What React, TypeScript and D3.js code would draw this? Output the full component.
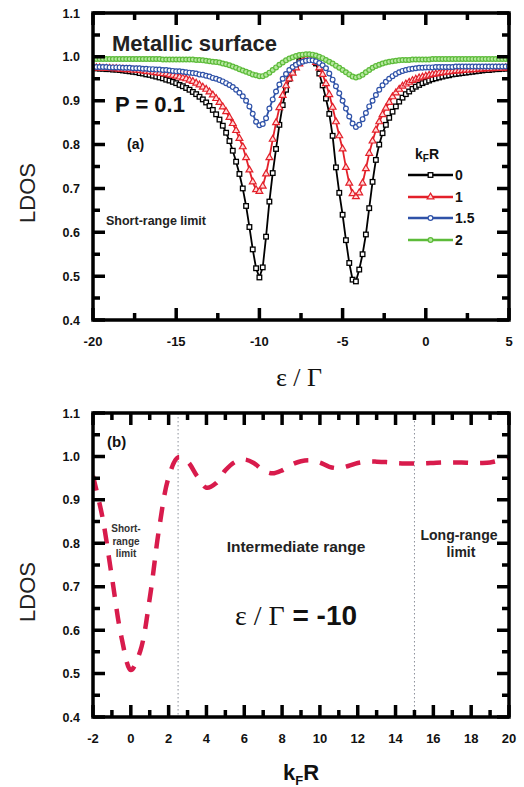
import React from "react";
import * as d3 from "d3";

// ---- Panel (a): LDOS vs ε/Γ for several k_F R (sampled every 0.2 in ε/Γ) ----
const EPS = d3.range(0, 126).map((i) => -20 + i * 0.2);

const LDOS_K0 = [
  0.974, 0.974, 0.973, 0.973, 0.972, 0.972, 0.971, 0.971, 0.97, 0.969,
  0.968, 0.967, 0.966, 0.965, 0.963, 0.962, 0.96, 0.959, 0.957, 0.955,
  0.953, 0.951, 0.948, 0.946, 0.943, 0.94, 0.936, 0.933, 0.929, 0.925,
  0.92, 0.915, 0.909, 0.903, 0.896, 0.888, 0.879, 0.869, 0.857, 0.843,
  0.827, 0.808, 0.786, 0.761, 0.733, 0.7, 0.66, 0.612, 0.561, 0.518,
  0.497, 0.52, 0.59, 0.67, 0.735, 0.79, 0.845, 0.89, 0.925, 0.95,
  0.968, 0.98, 0.99, 0.997, 1.001, 1.002, 0.998, 0.985, 0.962, 0.935,
  0.905, 0.87, 0.82, 0.748, 0.69, 0.64, 0.582, 0.53, 0.492, 0.488,
  0.515, 0.55, 0.595, 0.655, 0.715, 0.765, 0.8, 0.826, 0.845, 0.861,
  0.875, 0.887, 0.898, 0.907, 0.915, 0.921, 0.927, 0.932, 0.936, 0.94,
  0.943, 0.946, 0.949, 0.951, 0.953, 0.955, 0.957, 0.958, 0.96, 0.961,
  0.962, 0.963, 0.964, 0.965, 0.966, 0.967, 0.968, 0.969, 0.97, 0.97,
  0.971, 0.972, 0.972, 0.973, 0.973, 0.974,
];

const LDOS_K1 = [
  0.975, 0.975, 0.975, 0.974, 0.974, 0.974, 0.973, 0.973, 0.972, 0.972,
  0.971, 0.971, 0.97, 0.97, 0.969, 0.968, 0.967, 0.966, 0.965, 0.964,
  0.963, 0.962, 0.961, 0.959, 0.958, 0.956, 0.954, 0.952, 0.95, 0.947,
  0.944, 0.94, 0.936, 0.931, 0.926, 0.92, 0.913, 0.905, 0.896, 0.886,
  0.875, 0.862, 0.848, 0.832, 0.814, 0.795, 0.77, 0.742, 0.715, 0.697,
  0.693, 0.705, 0.733, 0.77, 0.812, 0.85, 0.884, 0.912, 0.934, 0.95,
  0.963, 0.975, 0.984, 0.991, 0.996, 0.997, 0.994, 0.987, 0.975, 0.96,
  0.939, 0.914, 0.885, 0.852, 0.82, 0.79, 0.748, 0.712, 0.688, 0.681,
  0.69, 0.712, 0.745, 0.78, 0.808, 0.833, 0.852, 0.868, 0.883, 0.896,
  0.909, 0.918, 0.926, 0.933, 0.938, 0.942, 0.946, 0.949, 0.952, 0.954,
  0.956, 0.958, 0.96, 0.961, 0.963, 0.964, 0.965, 0.966, 0.967, 0.968,
  0.968, 0.969, 0.97, 0.97, 0.971, 0.971, 0.972, 0.972, 0.973, 0.973,
  0.973, 0.974, 0.974, 0.974, 0.975, 0.975,
];

const LDOS_K15 = [
  0.977, 0.977, 0.977, 0.977, 0.977, 0.976, 0.976, 0.976, 0.976, 0.975,
  0.975, 0.975, 0.974, 0.974, 0.974, 0.973, 0.973, 0.972, 0.972, 0.971,
  0.971, 0.97, 0.97, 0.969, 0.968, 0.967, 0.967, 0.966, 0.965, 0.964,
  0.963, 0.962, 0.96, 0.959, 0.957, 0.955, 0.952, 0.95, 0.947, 0.944,
  0.94, 0.936, 0.931, 0.925, 0.918, 0.91, 0.9, 0.887, 0.87, 0.852,
  0.844, 0.847, 0.86, 0.882, 0.903, 0.921, 0.937, 0.95, 0.961, 0.97,
  0.977, 0.982, 0.986, 0.989, 0.991, 0.992, 0.992, 0.99, 0.986, 0.981,
  0.974, 0.962, 0.948, 0.933, 0.917, 0.9, 0.882, 0.864, 0.848, 0.84,
  0.845, 0.858, 0.872, 0.887, 0.9, 0.913, 0.925, 0.935, 0.943, 0.95,
  0.956, 0.961, 0.965, 0.968, 0.97, 0.972, 0.973, 0.974, 0.975, 0.975,
  0.976, 0.976, 0.976, 0.977, 0.977, 0.977, 0.977, 0.977, 0.977, 0.978,
  0.978, 0.978, 0.978, 0.978, 0.978, 0.978, 0.978, 0.978, 0.978, 0.978,
  0.978, 0.978, 0.978, 0.978, 0.978, 0.978,
];

const LDOS_K2 = [
  0.995, 0.995, 0.995, 0.995, 0.995, 0.995, 0.995, 0.995, 0.995, 0.995,
  0.995, 0.995, 0.995, 0.995, 0.995, 0.995, 0.995, 0.995, 0.995, 0.995,
  0.995, 0.994, 0.994, 0.994, 0.994, 0.994, 0.994, 0.994, 0.994, 0.994,
  0.994, 0.993, 0.993, 0.992, 0.991, 0.99, 0.989, 0.988, 0.987, 0.985,
  0.983, 0.981, 0.978, 0.975, 0.972, 0.969, 0.966, 0.963, 0.96, 0.958,
  0.956, 0.956, 0.959, 0.964, 0.97, 0.976, 0.982, 0.987, 0.992, 0.996,
  0.999, 1.002, 1.004, 1.005, 1.006, 1.006, 1.005, 1.003, 1.0, 0.997,
  0.993, 0.989, 0.985, 0.98, 0.975, 0.97, 0.965, 0.96, 0.955, 0.953,
  0.955, 0.959, 0.965, 0.97, 0.975, 0.979, 0.982, 0.985, 0.987, 0.989,
  0.99, 0.991, 0.992, 0.993, 0.993, 0.993, 0.994, 0.994, 0.994, 0.994,
  0.994, 0.994, 0.995, 0.995, 0.995, 0.995, 0.995, 0.995, 0.995, 0.995,
  0.995, 0.995, 0.995, 0.995, 0.995, 0.995, 0.995, 0.995, 0.995, 0.995,
  0.995, 0.995, 0.995, 0.995, 0.995, 0.995,
];

const SERIES_LABELS = ["0", "1", "1.5", "2"];

// ---- Panel (b): LDOS vs k_F R at ε/Γ = -10 (sampled every 0.5) ----
const KFR = d3.range(0, 45).map((i) => -2 + i * 0.5);
const LDOS_B = [
  0.955, 0.86, 0.722, 0.585, 0.508, 0.552, 0.673, 0.835, 0.952, 0.998,
  0.988, 0.955, 0.928, 0.938, 0.968, 0.987, 0.993, 0.985, 0.968, 0.961,
  0.968, 0.981, 0.989, 0.991, 0.986, 0.976, 0.973, 0.978, 0.985, 0.988,
  0.988, 0.987, 0.985, 0.984, 0.984, 0.984, 0.985, 0.986, 0.986, 0.986,
  0.985, 0.985, 0.986, 0.991, 0.998,
];
const REGION_BOUNDS = [2.5, 15];

// ---- Ticks ----
const Y_MAJOR = [0.4, 0.5, 0.6, 0.7, 0.8, 0.9, 1.0, 1.1];
const Y_MINOR = [0.45, 0.55, 0.65, 0.75, 0.85, 0.95, 1.05];
const XA_MAJOR = [-20, -15, -10, -5, 0, 5];
const XA_MINOR = [-17.5, -12.5, -7.5, -2.5, 2.5];
const XB_MAJOR = [-2, 0, 2, 4, 6, 8, 10, 12, 14, 16, 18, 20];
const XB_MINOR = [-1, 1, 3, 5, 7, 9, 11, 13, 15, 17, 19];

const SANS = "'Liberation Sans', Arial, Helvetica, sans-serif";
const SERIF = "'Liberation Serif', 'Times New Roman', serif";

const COLORS = ["#000000", "#e3202a", "#2f52a8", "#5dbb3a"];
const FILLS = ["#ffffff", "#ffd9d9", "#ffffff", "#b6e8a0"];

type Scale = d3.ScaleLinear<number, number>;

const xA = d3.scaleLinear().domain([-20, 5]).range([93, 509]);
const yA = d3.scaleLinear().domain([0.4, 1.1]).range([320, 13]);
const xB = d3.scaleLinear().domain([-2, 20]).range([93, 509]);
const yB = d3.scaleLinear().domain([0.4, 1.1]).range([717, 413]);

// Path data for inward tick marks on all four sides of a panel.
function tickPath(xs: Scale, ys: Scale, xMajor: number[], xMinor: number[]): string {
  const [left, right] = xs.range();
  const [bottom, top] = ys.range();
  const MAJ = 12;
  const MIN = 7;
  let d = "";
  const v = (px: number, len: number) => {
    d += "M" + px + "," + bottom + "L" + px + "," + (bottom - len);
    d += "M" + px + "," + top + "L" + px + "," + (top + len);
  };
  const h = (py: number, len: number) => {
    d += "M" + left + "," + py + "L" + (left + len) + "," + py;
    d += "M" + right + "," + py + "L" + (right - len) + "," + py;
  };
  xMajor.forEach((t) => v(xs(t), MAJ));
  xMinor.forEach((t) => v(xs(t), MIN));
  Y_MAJOR.forEach((t) => h(ys(t), MAJ));
  Y_MINOR.forEach((t) => h(ys(t), MIN));
  return d;
}

function Labels({ xs, ys, xMajor }: { xs: Scale; ys: Scale; xMajor: number[] }) {
  const [left] = xs.range();
  const [bottom] = ys.range();
  return (
    <g fontFamily={SANS} fontWeight="bold" fill="#111">
      {xMajor.map((v) => (
        <text key={"xl" + v} x={xs(v)} y={bottom + 26} textAnchor="middle" fontSize={13}>
          {String(v)}
        </text>
      ))}
      {Y_MAJOR.map((v) => (
        <text key={"yl" + v} x={left - 13} y={ys(v) + 4.5} textAnchor="end" fontSize={12.5}>
          {d3.format(".1f")(v)}
        </text>
      ))}
    </g>
  );
}

function Marker({ kind, cx, cy }: { kind: number; cx: number; cy: number }) {
  const c = COLORS[kind];
  const f = FILLS[kind];
  if (kind === 0) {
    return <rect x={cx - 2.3} y={cy - 2.3} width={4.6} height={4.6} fill={f} stroke={c} strokeWidth={1.3} />;
  }
  if (kind === 1) {
    const p = d3.symbol(d3.symbolTriangle, 20)() || "";
    return <path d={p} transform={`translate(${cx},${cy})`} fill={f} stroke={c} strokeWidth={1.2} />;
  }
  return <circle cx={cx} cy={cy} r={2.4} fill={f} stroke={c} strokeWidth={1.2} />;
}

export default function App() {
  const series = [LDOS_K0, LDOS_K1, LDOS_K15, LDOS_K2];
  const lineA = d3
    .line<[number, number]>()
    .x((d) => xA(d[0]))
    .y((d) => yA(d[1]));
  const lineB = d3
    .line<[number, number]>()
    .x((d) => xB(d[0]))
    .y((d) => yB(d[1]))
    .curve(d3.curveCatmullRom.alpha(0.5));

  const ptsB: [number, number][] = KFR.map((k, i) => [k, LDOS_B[i]]);

  const legendX0 = 408;
  const legendX1 = 453;
  const legendY = [175, 197, 218, 240];

  const ticksA = tickPath(xA, yA, XA_MAJOR, XA_MINOR);
  const ticksB = tickPath(xB, yB, XB_MAJOR, XB_MINOR);

  return (
    <svg
      width={524}
      height={787}
      viewBox="0 0 524 787"
      style={{ position: "absolute", left: 0, top: 0, display: "block", background: "#fff" }}
    >
      <defs>
        <clipPath id="clipA">
          <rect x={93} y={13} width={416} height={307} />
        </clipPath>
        <clipPath id="clipB">
          <rect x={93} y={413} width={416} height={304} />
        </clipPath>
      </defs>

      {/* ===== Panel (a) ===== */}
      <g clipPath="url(#clipA)">
        {series.map((vals, s) => {
          const pts: [number, number][] = EPS.slice(0, vals.length).map((e, i) => [e, vals[i]]);
          return (
            <g key={"s" + s}>
              <path d={lineA(pts) || ""} fill="none" stroke={COLORS[s]} strokeWidth={1.8} />
              {pts.map((p, i) => (
                <Marker key={i} kind={s} cx={xA(p[0])} cy={yA(p[1])} />
              ))}
            </g>
          );
        })}
      </g>
      <path d={ticksA} fill="none" stroke="#000" strokeWidth={3.5} strokeLinecap="butt" />
      <rect x={93} y={13} width={416} height={307} fill="none" stroke="#000" strokeWidth={3.5} />
      <Labels xs={xA} ys={yA} xMajor={XA_MAJOR} />

      <text x={112} y={51} fontFamily={SANS} fontWeight="bold" fontSize={22} fill="#222">
        Metallic surface
      </text>
      <text x={115} y={112} fontFamily={SANS} fontWeight="bold" fontSize={22} fill="#111">
        P = 0.1
      </text>
      <text x={127} y={149} fontFamily={SANS} fontWeight="bold" fontSize={14} fill="#111">
        (a)
      </text>
      <text x={106} y={225} fontFamily={SANS} fontWeight="bold" fontSize={12.5} fill="#222">
        Short-range limit
      </text>

      {/* legend */}
      <text x={415} y={159} fontFamily={SANS} fontWeight="bold" fontSize={14} fill="#111">
        k
        <tspan fontSize={10} dy={3}>
          F
        </tspan>
        <tspan dy={-3}>R</tspan>
      </text>
      {SERIES_LABELS.map((lab, s) => (
        <g key={"lg" + s}>
          <line
            x1={legendX0}
            x2={legendX1}
            y1={legendY[s]}
            y2={legendY[s]}
            stroke={COLORS[s]}
            strokeWidth={2.6}
          />
          <Marker kind={s} cx={(legendX0 + legendX1) / 2} cy={legendY[s]} />
          <text
            x={legendX1 + 2}
            y={legendY[s] + 5}
            fontFamily={SANS}
            fontWeight="bold"
            fontSize={14}
            fill="#111"
          >
            {lab}
          </text>
        </g>
      ))}

      <text
        transform={`translate(35,193) rotate(-90)`}
        textAnchor="middle"
        fontFamily={SANS}
        fontSize={22}
        fill="#222"
      >
        LDOS
      </text>
      <text x={299} y={386} textAnchor="middle" fontFamily={SERIF} fontSize={26} fill="#111">
        ε / Γ
      </text>

      {/* ===== Panel (b) ===== */}
      {REGION_BOUNDS.map((k) => (
        <line
          key={"rb" + k}
          x1={xB(k)}
          x2={xB(k)}
          y1={413}
          y2={717}
          stroke="#8a8f99"
          strokeWidth={1}
          strokeDasharray="1.5 2.5"
        />
      ))}
      <g clipPath="url(#clipB)">
        <path
          d={lineB(ptsB) || ""}
          fill="none"
          stroke="#d81b4c"
          strokeWidth={4.5}
          strokeDasharray="15 12"
        />
      </g>
      <path d={ticksB} fill="none" stroke="#000" strokeWidth={3.5} strokeLinecap="butt" />
      <rect x={93} y={413} width={416} height={304} fill="none" stroke="#000" strokeWidth={3.5} />
      <Labels xs={xB} ys={yB} xMajor={XB_MAJOR} />

      <text x={107} y={447} fontFamily={SANS} fontWeight="bold" fontSize={15} fill="#111">
        (b)
      </text>
      <g fontFamily={SANS} fontWeight="bold" fontSize={10} fill="#333" textAnchor="middle">
        <text x={126} y={532}>Short-</text>
        <text x={126} y={544.5}>range</text>
        <text x={126} y={557}>limit</text>
      </g>
      <text x={296} y={552} textAnchor="middle" fontFamily={SANS} fontWeight="bold" fontSize={15.5} fill="#222">
        Intermediate range
      </text>
      <g fontFamily={SANS} fontWeight="bold" fontSize={14} fill="#222" textAnchor="middle">
        <text x={459} y={540}>Long-range</text>
        <text x={461} y={557}>limit</text>
      </g>
      <text x={296} y={625} textAnchor="middle" fontSize={28} fill="#111">
        <tspan fontFamily={SERIF}>ε / Γ</tspan>
        <tspan fontFamily={SANS} fontWeight="bold"> = -10</tspan>
      </text>

      <text
        transform={`translate(35,592) rotate(-90)`}
        textAnchor="middle"
        fontFamily={SANS}
        fontSize={22}
        fill="#222"
      >
        LDOS
      </text>
      <text x={283} y={780} fontFamily={SANS} fontWeight="bold" fontSize={22} fill="#111">
        k
        <tspan fontSize={13} dy={5}>
          F
        </tspan>
        <tspan dy={-5}>R</tspan>
      </text>
    </svg>
  );
}
